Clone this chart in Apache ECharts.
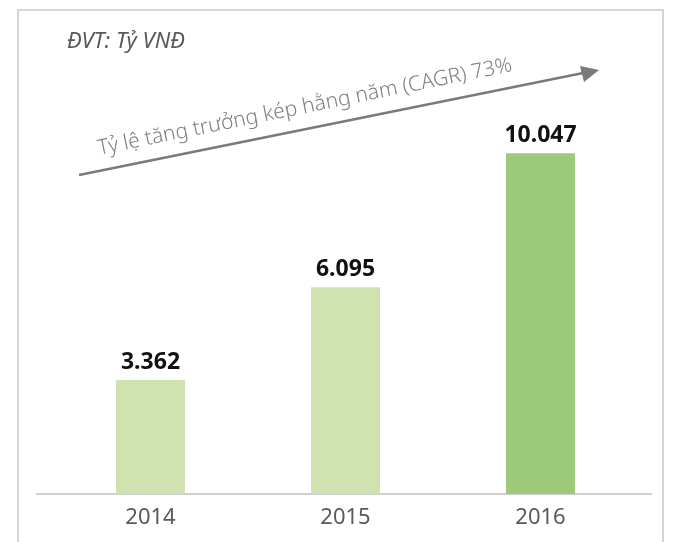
<!DOCTYPE html>
<html>

<head>
    <title>Doanh thu 2014-2016</title>
    <meta charset="utf-8">
    <script src="https://cdn.jsdelivr.net/npm/echarts@6/dist/echarts.min.js"></script>
    <style>
        body { margin: 0; background: #fff; }
    </style>
</head>

<body>
    <!-- chart container -->
    <div id="main" style="width: 682px;height:542px;"></div>

    <script type="text/javascript">
        var myChart = echarts.init(document.getElementById('main'));

        // data
        var years = ['2014', '2015', '2016'];
        var values = [3362, 6095, 10047];
        var labels = ['3.362', '6.095', '10.047'];
        var barColors = ['#cfe2b0', '#cfe2b0', '#9dc97a'];

        var font = 'Noto Sans';

        var option = {
            backgroundColor: '#fff',
            grid: {
                left: 53,
                right: 44,
                top: 87,
                bottom: 48
            },
            xAxis: {
                type: 'category',
                data: years,
                axisLine: { show: false },
                axisTick: { show: false },
                axisLabel: {
                    margin: 13,
                    fontSize: 22,
                    color: '#595959',
                    fontFamily: font
                }
            },
            yAxis: {
                type: 'value',
                min: 0,
                max: 12000,
                show: false,
                splitLine: { show: false }
            },
            series: [{
                type: 'bar',
                barWidth: 69,
                data: values.map(function (v, i) {
                    return {
                        value: v,
                        itemStyle: { color: barColors[i] }
                    };
                }),
                label: {
                    show: true,
                    position: 'top',
                    distance: 6,
                    fontSize: 23,
                    fontWeight: 'bold',
                    color: '#111',
                    fontFamily: font,
                    formatter: function (p) { return labels[p.dataIndex]; }
                }
            }],
            graphic: [
                // outer frame
                {
                    type: 'rect',
                    shape: { x: 18, y: 10, width: 645, height: 560 },
                    style: { fill: 'none', stroke: '#c8c8c8', lineWidth: 1.5 },
                    z: -1
                },
                // base line
                {
                    type: 'line',
                    shape: { x1: 36, y1: 494, x2: 652, y2: 494 },
                    style: { stroke: '#bfbfbf', lineWidth: 1.5 }
                },
                // unit
                {
                    type: 'text',
                    left: 67,
                    top: 31,
                    style: {
                        text: 'ĐVT: Tỷ VNĐ',
                        fontSize: 22,
                        fontStyle: 'italic',
                        fill: '#595959',
                        fontFamily: font
                    }
                },
                // CAGR arrow
                {
                    type: 'line',
                    shape: { x1: 79, y1: 175, x2: 588, y2: 72 },
                    style: { stroke: '#7a7a7a', lineWidth: 2.5 }
                },
                {
                    type: 'polygon',
                    shape: { points: [[599, 70], [580, 66], [584, 82]] },
                    style: { fill: '#7a7a7a' }
                },
                {
                    type: 'text',
                    x: 305,
                    y: 107,
                    rotation: 0.2,
                    style: {
                        text: 'Tỷ lệ tăng trưởng kép hằng năm (CAGR) 73%',
                        fontSize: 21,
                        fontWeight: 300,
                        fill: '#808080',
                        fontFamily: font,
                        align: 'center',
                        verticalAlign: 'middle'
                    }
                }
            ]
        };

        myChart.setOption(option);
    </script>
</body>

</html>
